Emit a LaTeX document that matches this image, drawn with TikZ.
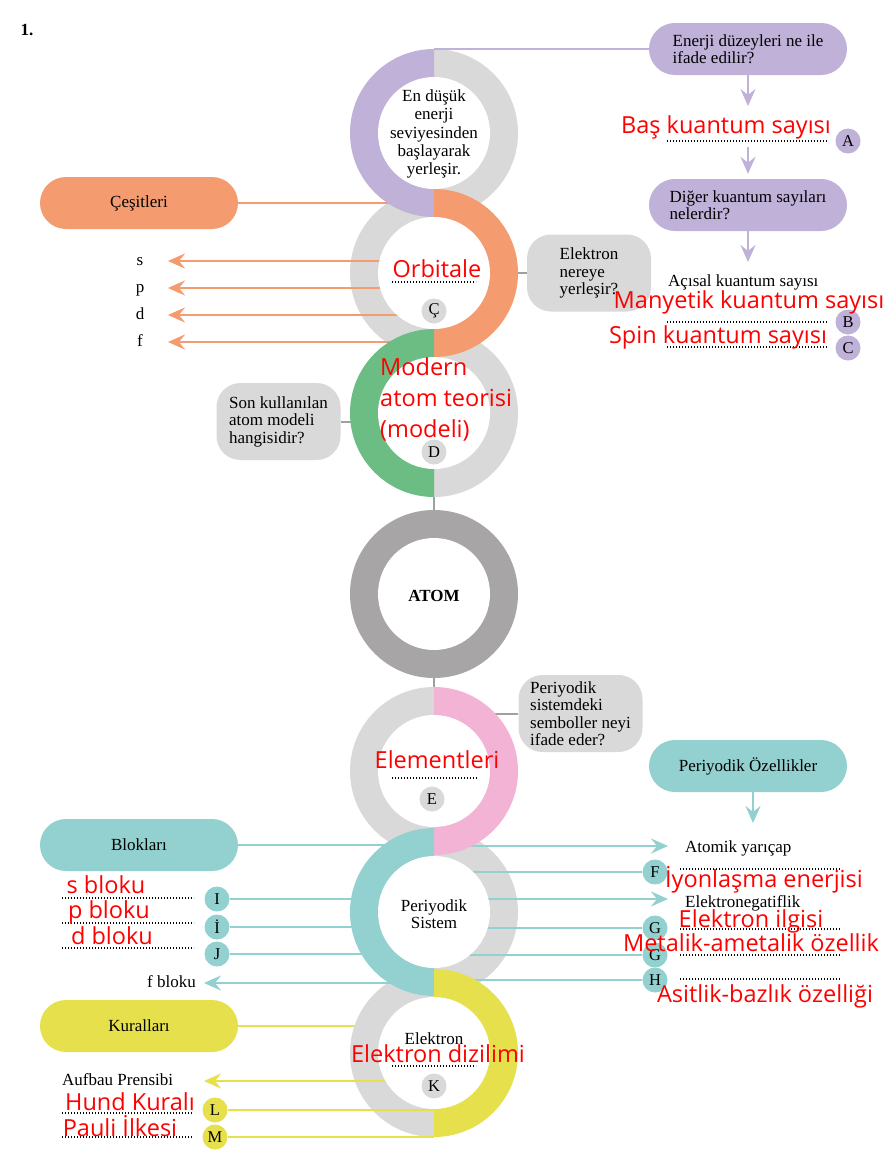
\documentclass[tikz,border=0pt]{standalone}
\usepackage{fontspec}
\setmainfont{Liberation Serif}
\newfontfamily\redf{Open Sans}
\usetikzlibrary{arrows.meta,shapes.misc}
\definecolor{cpurp}{HTML}{BFB1D8}
\definecolor{cgray}{HTML}{D9D9D9}
\definecolor{corange}{HTML}{F49C70}
\definecolor{cgreen}{HTML}{6BBD84}
\definecolor{catom}{HTML}{A7A5A6}
\definecolor{cpink}{HTML}{F3B3D4}
\definecolor{cteal}{HTML}{93D0D0}
\definecolor{cyel}{HTML}{E5E04B}
\definecolor{cline}{HTML}{A0A0A0}
\definecolor{cred}{HTML}{FF0000}
\newcommand\HalfL[3]{\begin{scope}\clip (#1-90,#2-90) rectangle (#1,#2+90);\fill[#3] (#1,#2) circle[radius=84pt];\end{scope}}
\newcommand\HalfR[3]{\begin{scope}\clip (#1,#2-90) rectangle (#1+90,#2+90);\fill[#3] (#1,#2) circle[radius=84pt];\end{scope}}
\tikzset{
  txt/.style={font=\fontsize{17}{17.5}\selectfont, inner sep=0pt, text=black},
  lab/.style={txt, text height=11.5pt, text depth=3.5pt},
  rtxt/.style={font=\redf\fontsize{23.5}{31}\selectfont, text=cred, inner sep=0pt, anchor=base},
  pill/.style={rounded rectangle, minimum width=198pt, minimum height=52pt, inner sep=0pt, align=left, font=\fontsize{17}{17.5}\selectfont},
  qbox/.style={rectangle, rounded corners=24pt, fill=cgray, minimum width=124pt, minimum height=77pt, inner sep=0pt, align=left, font=\fontsize{17}{17.5}\selectfont},
  lc/.style={circle, minimum size=25pt, inner sep=0pt, font=\fontsize{16.5}{16.5}\selectfont},
  dotl/.style={line width=1.3pt, dash pattern=on 1.2pt off 1.8pt, black},
  conn/.style={line width=2.5pt},
  gline/.style={line width=2pt, cline},
  arr/.style={-{Stealth[length=17pt,width=15pt,inset=6pt]}},
}
\begin{document}
\begin{tikzpicture}[x=1pt,y=-1pt]
\useasboundingbox (0,0) rectangle (886,1170);
\fill[white] (0,0) rectangle (886,1170);
% ring centres and helper columns
\coordinate (r1) at (434,133);
\coordinate (r2) at (434,273);
\coordinate (r3) at (434,413);
\coordinate (r4) at (434,594);
\coordinate (r5) at (434,771);
\coordinate (r6) at (434,912);
\coordinate (r7) at (434,1053);
\coordinate (tipL) at (168,0);
\coordinate (tipL2) at (204,0);
\coordinate (aAto) at (668,846);
\coordinate (aNeg) at (668,899);
\coordinate (pa1) at (748,106);
\coordinate (pa2s) at (748,147);
\coordinate (pa3) at (748,262);
\coordinate (ta) at (753,823);

\node[txt, font=\bfseries\fontsize{17}{17}\selectfont] (one) at (27,30) {1.};

% pills and boxes
\node[pill,fill=cpurp] (q1) at (748,49) {Enerji düzeyleri ne ile\\ifade edilir?};
\node[pill,fill=cpurp] (q2) at (748,205) {Diğer kuantum sayıları\\nelerdir?};
\node[pill,fill=corange,align=center] (ces) at (139,203) {Çeşitleri};
\node[pill,fill=cteal,align=center] (pz) at (748,766) {Periyodik Özellikler};
\node[pill,fill=cteal,align=center] (blk) at (139,845) {Blokları};
\node[pill,fill=cyel,align=center] (kur) at (139,1026) {Kuralları};
\node[qbox] (qel) at (589,273) {Elektron\\nereye\\yerleşir?};
\node[qbox] (qson) at (278.5,421.5) {Son kullanılan\\atom modeli\\hangisidir?};
\node[qbox] (qper) at (580.5,713.5) {Periyodik\\sistemdeki\\semboller neyi\\ifade eder?};

% labels
\node[lab] (ls) at (140,261) {s};
\node[lab] (lp) at (140,288) {p};
\node[lab] (ld) at (140,315) {d};
\node[lab] (lf) at (140,342) {f};
\node[lab,anchor=east] (lfb) at (196,983) {f bloku};
\node[lab,anchor=west] (lauf) at (62,1081) {Aufbau Prensibi};
\node[lab,anchor=west] (lacs) at (668,282) {Açısal kuantum sayısı};
\node[lab,anchor=west] (lato) at (685,848) {Atomik yarıçap};
\node[lab,anchor=west] (lneg) at (685,903) {Elektronegatiflik};

% letter circles outside rings
\node[lc,fill=cpurp] (A) at (848,141) {A};
\node[lc,fill=cpurp] (B) at (848,322) {B};
\node[lc,fill=cpurp] (C) at (848,348) {C};
\node[lc,fill=cteal] (F) at (655,872) {F};
\node[lc,fill=cteal] (G1) at (655,928) {G};
\node[lc,fill=cteal] (G2) at (655,955) {G};
\node[lc,fill=cteal] (H) at (655,980) {H};
\node[lc,fill=cteal] (I) at (217,899) {I};
\node[lc,fill=cteal] (Id) at (217,927) {İ};
\node[lc,fill=cteal] (J) at (217,954) {J};
\node[lc,fill=cyel] (L) at (215,1110) {L};
\node[lc,fill=cyel] (M) at (215,1137) {M};

% lines beneath rings
\draw[conn,cyel] (kur.east) -- (kur -| r7);
\draw[gline] (r3) -- (r4);
\draw[gline] (r4) -- (r5);

% gray halves and atom ring
\HalfR{434}{133}{cgray}
\HalfL{434}{273}{cgray}
\HalfR{434}{413}{cgray}
\fill[catom] (r4) circle[radius=84pt];
\HalfL{434}{771}{cgray}
\HalfR{434}{912}{cgray}
\HalfL{434}{1053}{cgray}

% connectors
\draw[conn,corange] (ces.east) -- (ces -| r1);
\draw[conn,corange,arr] (ls -| r2) -- (ls -| tipL);
\draw[conn,corange,arr] (lp -| r2) -- (lp -| tipL);
\draw[conn,corange,arr] (ld -| r2) -- (ld -| tipL);
\draw[conn,corange,arr] (lf -| r2) -- (lf -| tipL);
\draw[gline] (qel.west) -- (r2);
\draw[gline] (qson.east) -- (qson -| r3);
\draw[gline] (qper.west) -- (qper -| r5);
\draw[conn,cteal] (blk.east) -- (blk -| r6);
\draw[conn,cteal] (I.east) -- (I -| r6);
\draw[conn,cteal] (Id.east) -- (Id -| r6);
\draw[conn,cteal] (J.east) -- (J -| r6);
\draw[conn,cteal,arr] (lfb -| r6) -- (lfb -| tipL2);
\draw[conn,cyel,arr] (lauf -| r7) -- (lauf -| tipL2);
\draw[conn,cyel] (L.east) -- (L -| r7);
\draw[conn,cyel] (M.east) -- (M -| r7);
\draw[conn,cteal,arr] (aAto -| r6) -- (aAto);
\draw[conn,cteal] (F -| r6) -- (F.west);
\draw[conn,cteal,arr] (aNeg -| r6) -- (aNeg);
\draw[conn,cteal] (G1 -| r6) -- (G1.west);
\draw[conn,cteal] (G2 -| r6) -- (G2.west);
\draw[conn,cteal] (H -| r6) -- (H.west);

% coloured halves
\HalfL{434}{133}{cpurp}
\HalfR{434}{273}{corange}
\HalfL{434}{413}{cgreen}
\HalfR{434}{771}{cpink}
\HalfL{434}{912}{cteal}
\HalfR{434}{1053}{cyel}

% white centres
\foreach \c in {r1,r2,r3,r4,r5,r6,r7} \fill[white] (\c) circle[radius=56pt];

% top connectors and arrows
\draw[conn,cpurp] (q1.west -| r1) -- (q1.west);
\draw[conn,cpurp,arr] (q1.south) -- (pa1);
\draw[conn,cpurp,arr] (pa2s) -- ([yshift=5pt]q2.north);
\draw[conn,cpurp,arr] (q2.south) -- (pa3);
\draw[conn,cteal,arr] (pz.south -| ta) -- (ta);

% ring contents
\node[txt,align=center,font=\fontsize{17}{18.3}\selectfont] (t1) at (434,134) {En düşük\\enerji\\seviyesinden\\başlayarak\\yerleşir.};
\node[lc,fill=cgray] (Cc) at (434,311) {Ç};
\node[lc,fill=cgray] (D) at (434,452) {D};
\node[txt,font=\bfseries\fontsize{17}{17}\selectfont] (atom) at (434,596) {ATOM};
\node[lc,fill=cgray] (E) at (432,799) {E};
\node[txt,align=center] (ps) at (434,914) {Periyodik\\Sistem};
\node[txt] (el) at (434,1039) {Elektron};
\node[lc,fill=cgray] (K) at (434,1086) {K};

% dotted answer lines
\draw[dotl] (667,141) -- (828,141);
\draw[dotl] (667,322) -- (828,322);
\draw[dotl] (667,347) -- (828,347);
\draw[dotl] (392,282) -- (476,282);
\draw[dotl] (392,778) -- (477,778);
\draw[dotl] (392,1066) -- (476,1066);
\draw[dotl] (680,869) -- (840,869);
\draw[dotl] (680,929) -- (840,929);
\draw[dotl] (680,955) -- (840,955);
\draw[dotl] (680,979) -- (840,979);
\draw[dotl] (62,898) -- (194,898);
\draw[dotl] (62,923) -- (194,923);
\draw[dotl] (62,948) -- (194,948);
\draw[dotl] (62,1113) -- (193,1113);
\draw[dotl] (62,1137) -- (193,1137);

% red answers
\node[rtxt] (aA) at (726,133) {Baş kuantum sayısı};
\node[rtxt] (aB) at (749,308) {Manyetik kuantum sayısı};
\node[rtxt] (aC) at (718,343) {Spin kuantum sayısı};
\node[rtxt] (aCc) at (437,277) {Orbitale};
\node[rtxt,anchor=base west] (aD1) at (380,375) {Modern};
\node[rtxt,anchor=base west] (aD2) at (380,406) {atom teorisi};
\node[rtxt,anchor=base west] (aD3) at (380,437) {(modeli)};
\node[rtxt] (aE) at (437,768) {Elementleri};
\node[rtxt] (aK) at (438,1062) {Elektron dizilimi};
\node[rtxt] (aI) at (106,893) {s bloku};
\node[rtxt] (aId) at (109,918) {p bloku};
\node[rtxt] (aJ) at (112,944) {d bloku};
\node[rtxt] (aL) at (130,1110) {Hund Kuralı};
\node[rtxt] (aM) at (120,1136) {Pauli İlkesi};
\node[rtxt] (aF) at (764,887) {İyonlaşma enerjisi};
\node[rtxt] (aG1) at (751,927) {Elektron ilgisi};
\node[rtxt] (aG2) at (751,951) {Metalik-ametalik özellik};
\node[rtxt] (aH) at (765,1002) {Asitlik-bazlık özelliği};
\end{tikzpicture}
\end{document}
